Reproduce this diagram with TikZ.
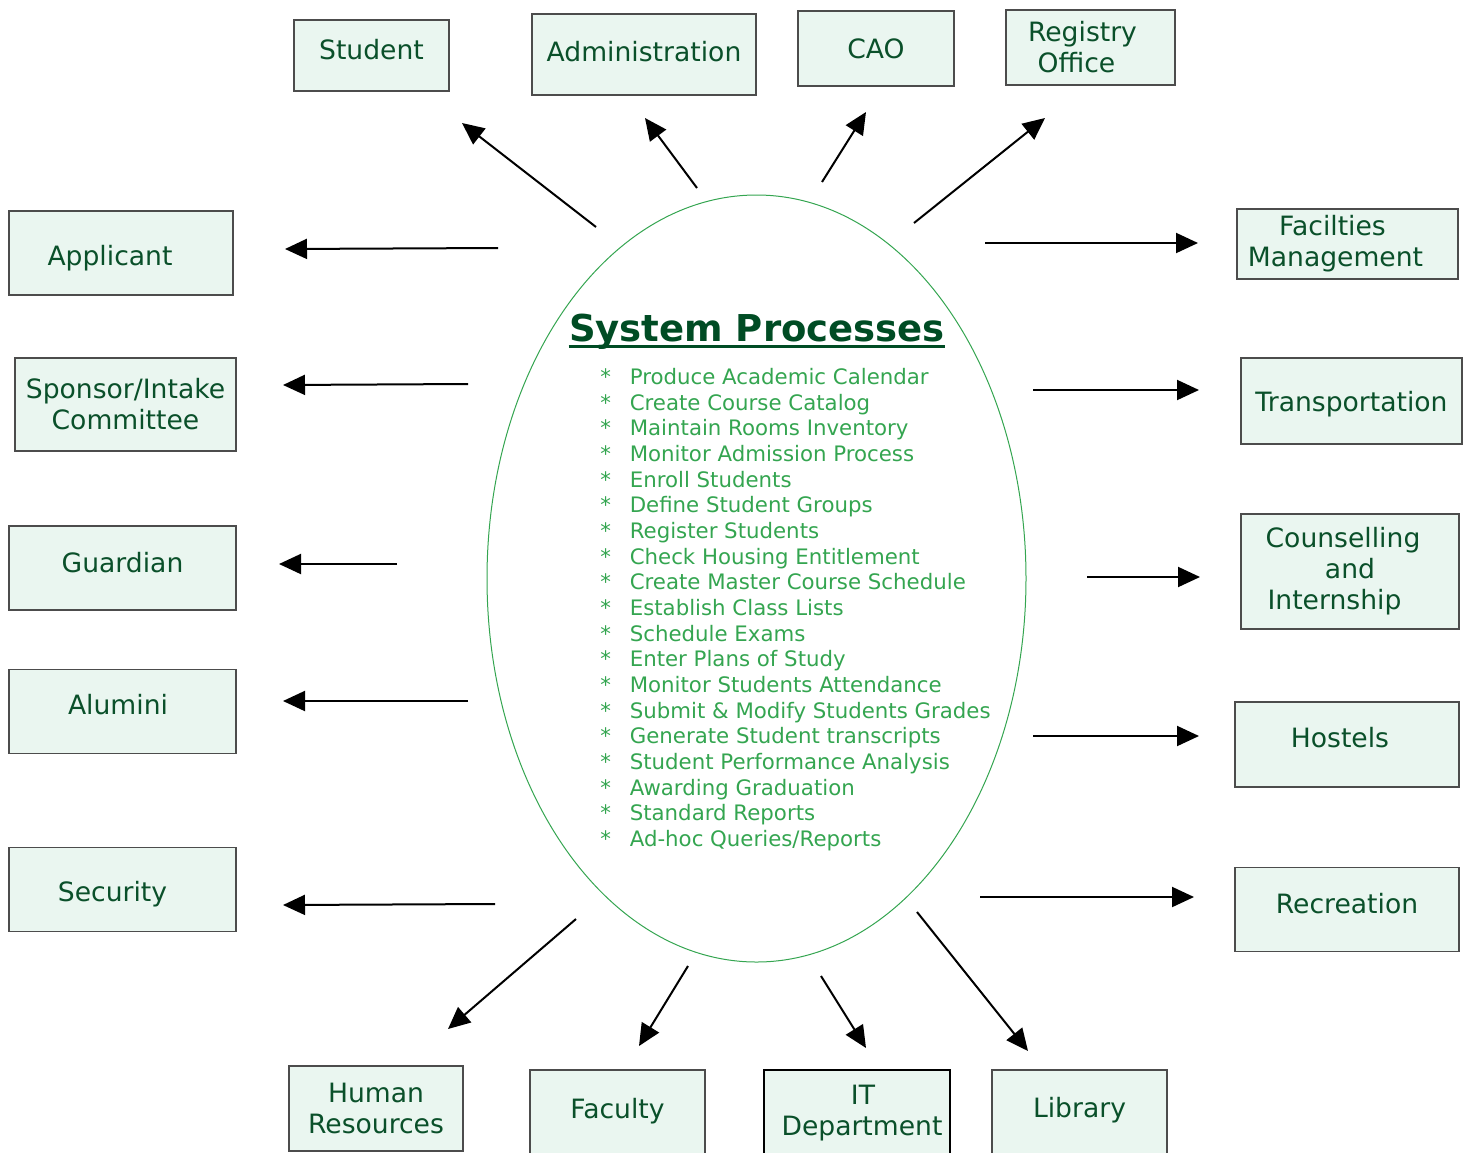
\documentclass[tikz,border=0pt]{standalone}
\usepackage{fontspec}
\setmainfont{DejaVu Sans}
\usepackage{xcolor}
\usetikzlibrary{positioning}
\usetikzlibrary{arrows.meta}
\usetikzlibrary{shapes.geometric}

\definecolor{boxfill}{RGB}{234,246,240}
\definecolor{boxtext}{RGB}{10,80,42}
\definecolor{listgreen}{RGB}{52,165,80}
\definecolor{titlegreen}{RGB}{0,76,36}

\newcommand{\procitem}[1]{\makebox[1.38em][l]{*}#1}

\begin{document}
\begin{tikzpicture}[x=0.5pt,y=-0.5pt,>={Triangle[length=11pt,width=10pt]},
                    main box/.style={draw=black!70,line width=0.6pt,fill=boxfill,text=boxtext,
                    font=\fontsize{13.3}{15.5}\selectfont,align=center,inner sep=0pt},
                    one box/.style={main box,text height=10pt,text depth=0.3pt},
                    lift/.style={text depth=#1},
                    flow/.style={->,line width=1pt}]
\useasboundingbox (0,0) rectangle (1467,1152);

% centre
\node[ellipse,draw=listgreen,line width=0.5pt,minimum width=269.5pt,minimum height=383.5pt,inner sep=0pt] (sys) at (756.5,578.5) {};
\node[font=\fontsize{18.5}{22}\selectfont\bfseries,text=titlegreen,inner sep=0pt,anchor=base] (title) at (757,341) {System Processes};
\draw[titlegreen,line width=1.5pt] ([yshift=-2.5pt]title.base west) -- ([yshift=-2.5pt]title.base east);
\node[font=\fontsize{10.65}{12.83}\selectfont,text=listgreen,align=left,inner sep=0pt,anchor=north west] (procs) at (600,368)
  {\procitem{Produce Academic Calendar}\\
   \procitem{Create Course Catalog}\\
   \procitem{Maintain Rooms Inventory}\\
   \procitem{Monitor Admission Process}\\
   \procitem{Enroll Students}\\
   \procitem{Define Student Groups}\\
   \procitem{Register Students}\\
   \procitem{Check Housing Entitlement}\\
   \procitem{Create Master Course Schedule}\\
   \procitem{Establish Class Lists}\\
   \procitem{Schedule Exams}\\
   \procitem{Enter Plans of Study}\\
   \procitem{Monitor Students Attendance}\\
   \procitem{Submit \& Modify Students Grades}\\
   \procitem{Generate Student transcripts}\\
   \procitem{Student Performance Analysis}\\
   \procitem{Awarding Graduation}\\
   \procitem{Standard Reports}\\
   \procitem{Ad-hoc Queries/Reports}};

% top row
\node[one box,lift=5.8pt] (1) at (371.5,55.5) [minimum width=77.5pt,minimum height=35.5pt] {Student};
\node[one box,lift=3.3pt] (2) at (644,54.5) [minimum width=112pt,minimum height=40.5pt] {Administration};
\node[one box] (3) at (876,48.5) [minimum width=78pt,minimum height=37.5pt] {CAO};
\node[main box] (4) at (1090.5,47.5) [minimum width=84.5pt,minimum height=37.5pt] {Registry\hspace*{8pt}\\Office\hspace*{14pt}};

% left column
\node[one box,text height=12.7pt,text depth=0pt] (5) at (121,253) [minimum width=112pt,minimum height=42pt] {Applicant\hspace*{11pt}};
\node[main box] (6) at (125.5,404.5) [minimum width=110.5pt,minimum height=46.5pt] {Sponsor/Intake\\Committee};
\node[one box,lift=5.3pt] (7) at (122.5,568) [minimum width=113.5pt,minimum height=42pt] {Guardian};
\node[one box,lift=6.8pt] (8) [below=29pt of 7,minimum width=113.5pt,minimum height=42pt] {Alumini\hspace*{4.5pt}};
\node[one box,text height=11.7pt,text depth=0pt] (9) [below=46.5pt of 8,minimum width=113.5pt,minimum height=42pt] {Security\hspace*{10pt}};

% bottom row
\node[main box] (10) at (376,1108.5) [minimum width=87pt,minimum height=42.5pt] {Human\\Resources};
\node[one box,lift=4.8pt] (11) at (617.5,1113) [minimum width=87.5pt,minimum height=43pt] {Faculty};
\node[main box,draw=black] (12) at (857,1113) [minimum width=93pt,minimum height=43pt] {\hspace*{6pt}IT\\\hspace*{5pt}Department};
\node[one box,lift=5.8pt] (13) at (1079.5,1113) [minimum width=87.5pt,minimum height=43pt] {Library};

% right column
\node[main box] (14) at (1347.5,244) [minimum width=110.5pt,minimum height=35pt] {Facilties\hspace*{15pt}\\Management\hspace*{12pt}};
\node[one box,text height=10.7pt,text depth=0pt] (15) at (1351.5,401) [minimum width=110.5pt,minimum height=43pt] {Transportation};
\node[main box] (16) at (1350,571.5) [minimum width=109pt,minimum height=57.5pt] {Counselling\hspace*{7pt}\\and\hspace*{13pt}\\Internship\hspace*{15.5pt}};
\node[one box,lift=6.8pt] (17) at (1347,744.5) [minimum width=112pt,minimum height=42.5pt] {Hostels\hspace*{7pt}};
\node[one box,lift=5.8pt] (18) [below=39.5pt of 17,minimum width=112pt,minimum height=42pt] {Recreation};

% arrow ends
\coordinate (s1) at (596,227);   \coordinate (t1) at (462,123);
\coordinate (s2) at (697,188);   \coordinate (t2) at (645,118);
\coordinate (s3) at (822,182);   \coordinate (t3) at (866,112);
\coordinate (s4) at (914,223);   \coordinate (t4) at (1045,118);
\coordinate (s5) at (498,248);   \coordinate (t5) at (285,249);
\coordinate (s6) at (468,384);   \coordinate (t6) at (283,385);
\coordinate (s7) at (397,564);   \coordinate (t7) at (279,564);
\coordinate (s8) at (468,701);   \coordinate (t8) at (283,701);
\coordinate (s9) at (495,904);   \coordinate (t9) at (283,905);
\coordinate (s10) at (576,919);  \coordinate (t10) at (448,1029);
\coordinate (s11) at (688,966);  \coordinate (t11) at (639,1046);
\coordinate (s12) at (821,976);  \coordinate (t12) at (866,1048);
\coordinate (s13) at (917,912);  \coordinate (t13) at (1028,1051);
\coordinate (s14) at (985,243);  \coordinate (t14) at (1198,243);
\coordinate (s15) at (1033,390); \coordinate (t15) at (1199,390);
\coordinate (s16) at (1087,577); \coordinate (t16) at (1200,577);
\coordinate (s17) at (1033,736); \coordinate (t17) at (1199,736);
\coordinate (s18) at (980,897);  \coordinate (t18) at (1194,897);

\path[flow]
  (s1) edge (t1)
  (s2) edge (t2)
  (s3) edge (t3)
  (s4) edge (t4)
  (s5) edge (t5)
  (s6) edge (t6)
  (s7) edge (t7)
  (s8) edge (t8)
  (s9) edge (t9)
  (s10) edge (t10)
  (s11) edge (t11)
  (s12) edge (t12)
  (s13) edge (t13)
  (s14) edge (t14)
  (s15) edge (t15)
  (s16) edge (t16)
  (s17) edge (t17)
  (s18) edge (t18);

\end{tikzpicture}
\end{document}
